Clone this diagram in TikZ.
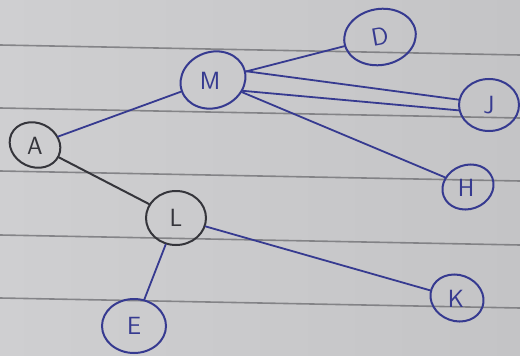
\documentclass[tikz,border=0pt]{standalone}
\usetikzlibrary{shapes.geometric}
\definecolor{paper}{HTML}{C4C4C6}
\definecolor{paperlight}{HTML}{CFCFD1}
\definecolor{rule}{HTML}{66666A}
\definecolor{ink}{HTML}{363A90}
\definecolor{pencil}{HTML}{35353B}
\tikzset{
  vtx/.style={ellipse, draw=ink, line width=2pt, text=ink, inner sep=0pt,
              font=\sffamily\Huge},
  pvtx/.style={vtx, draw=pencil, text=pencil},
  lbl/.style={text=ink, font=\sffamily\Huge},
  edge/.style={draw=ink, line width=1.8pt, line cap=round},
  pedge/.style={draw=pencil, line width=2pt, line cap=round},
  ruled/.style={draw=rule, line width=1.6pt, opacity=0.7}
}
\begin{document}
\begin{tikzpicture}[x=1pt,y=-1pt]
\useasboundingbox (0,0) rectangle (520,356);
\shade[left color=paperlight, right color=paper] (0,0) rectangle (520,356);
% ruled lines of the paper
\foreach \y in {45,108,171,235,298} {
  \draw[ruled] (0,\y) -- (520,\y+10);
}
% nodes
\node[pvtx, minimum width=52, minimum height=44, rotate=-25] (A) at (35,145) {};
\node[lbl, text=pencil] at (35,146) {A};
\node[vtx, minimum width=66, minimum height=56, rotate=20] (M) at (213,80) {};
\node[lbl] at (210,81) {M};
\node[vtx, minimum width=72, minimum height=56, rotate=10] (D) at (380,37) {D};
\node[vtx, minimum width=60, minimum height=52] (J) at (489,105) {J};
\node[vtx, minimum width=52, minimum height=44, rotate=20] (H) at (468,187) {};
\node[lbl] at (466,188) {H};
\node[pvtx, minimum width=60, minimum height=54] (L) at (176,218) {L};
\node[vtx, minimum width=64, minimum height=54] (E) at (134,326) {E};
\node[vtx, minimum width=54, minimum height=46, rotate=-20] (K) at (457,298) {};
\node[lbl] at (456,299) {K};
% edges
\draw[edge] (A) -- (M);
\draw[edge] (M) -- (D);
\draw[edge] (M.-5) -- (J.170);
\draw[edge] (M.-40) -- (J.190);
\draw[edge] (M) -- (H);
\draw[pedge] (A) -- (L);
\draw[edge] (L) -- (E);
\draw[edge] (L) -- (K);
\end{tikzpicture}
\end{document}
